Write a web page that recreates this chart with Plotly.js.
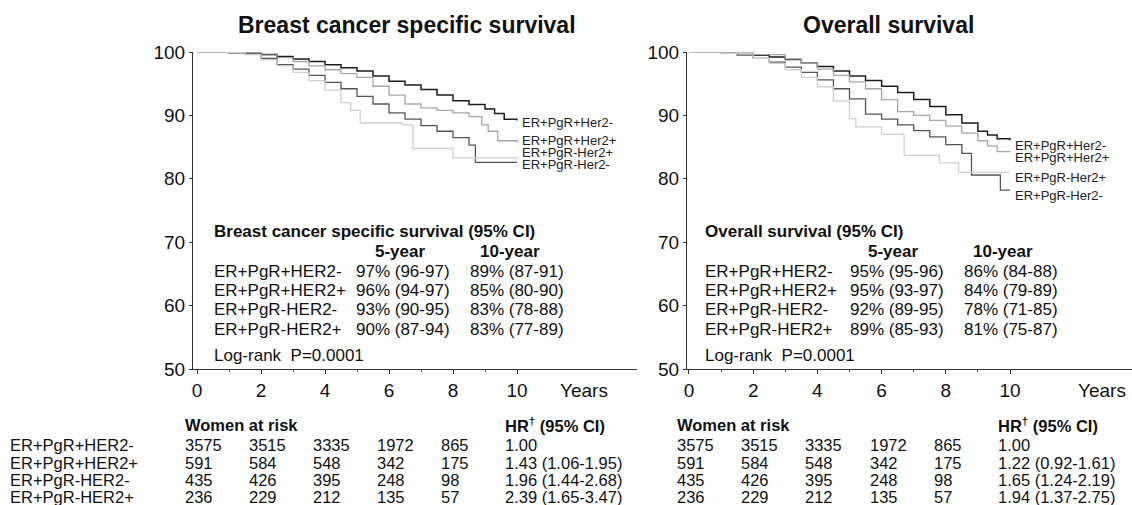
<!DOCTYPE html>
<html>
<head>
<meta charset="utf-8">
<script src="https://cdn.plot.ly/plotly-3.0.1.min.js"></script>
<style>
  html, body { margin: 0; padding: 0; background: #fff; }
  #chart { width: 1132px; height: 505px; }
</style>
</head>
<body>
<div id="chart"></div>
<script>
// ---------------- DATA ----------------
const groups = ["ER+PgR+HER2-", "ER+PgR+HER2+", "ER+PgR-HER2-", "ER+PgR-HER2+"];
const curveLabelsBCSS = ["ER+PgR+Her2-", "ER+PgR+Her2+", "ER+PgR-Her2+", "ER+PgR-Her2-"];
const curveLabelsOS = ["ER+PgR+Her2-", "ER+PgR+Her2+", "ER+PgR-Her2+", "ER+PgR-Her2-"];

// Breast cancer specific survival (%), Kaplan-Meier steps
const bcssT1 = [0, 1, 1.5, 2, 2.5, 3, 3.5, 4, 4.5, 5, 5.5, 6, 6.5, 7, 7.5, 8, 8.5, 9, 9.3, 9.6, 10];
const bcssS1 = [100, 99.9, 99.8, 99.6, 99.3, 98.9, 98.5, 98.0, 97.5, 97.0, 96.2, 95.4, 94.8, 94.1, 93.2, 92.3, 91.7, 91.0, 90.3, 89.4, 89.2];
const bcssT2 = [0, 1, 1.5, 2, 2.5, 3, 3.5, 4, 4.5, 5, 5.5, 6, 6.5, 7, 7.5, 8, 8.5, 8.9, 9.1, 9.4, 10];
const bcssS2 = [100, 99.9, 99.8, 99.5, 99.1, 98.5, 97.8, 97.2, 96.6, 96.0, 94.6, 93.2, 91.8, 91.2, 90.8, 90.4, 89.8, 88.5, 87.5, 86.0, 85.8];
const bcssT3 = [0, 1, 1.5, 2, 2.5, 3, 3.5, 4, 4.5, 5, 5.5, 6, 6.5, 7, 7.5, 8, 8.5, 8.7, 10];
const bcssS3 = [100, 99.9, 99.7, 99.0, 98.0, 97.3, 96.3, 95.2, 94.2, 93.0, 91.8, 90.4, 89.4, 88.4, 87.5, 86.5, 85.3, 82.6, 82.6];
const bcssT4 = [0, 1, 1.5, 2, 2.5, 3, 3.5, 4, 4.5, 4.8, 5.1, 6.4, 6.75, 8.0, 10];
const bcssS4 = [100, 99.9, 99.6, 98.8, 97.8, 96.8, 95.5, 94.0, 92.0, 90.8, 88.8, 88.5, 84.8, 83.3, 83.0];

// Overall survival (%)
const osT1 = [0, 1, 2, 2.5, 3, 3.5, 4, 4.5, 5, 5.5, 6, 6.5, 7, 7.5, 8, 8.5, 9, 9.3, 9.6, 10];
const osS1 = [100, 99.9, 99.5, 99.2, 98.8, 98.3, 97.7, 97.0, 96.2, 95.5, 94.6, 93.6, 92.5, 91.4, 90.1, 88.8, 87.5, 86.9, 86.3, 86.1];
const osT2 = [0, 1, 2, 3, 3.5, 4, 4.5, 5, 5.5, 6, 6.5, 7, 7.5, 8, 8.5, 9, 9.3, 9.6, 10];
const osS2 = [100, 99.9, 99.6, 98.9, 98.3, 97.3, 96.3, 95.3, 94.2, 92.5, 90.6, 90.0, 89.2, 88.3, 87.2, 86.0, 85.2, 84.3, 84.2];
const osT3 = [0, 1, 1.5, 2, 2.5, 3, 3.5, 4, 4.5, 5, 5.5, 6, 6.5, 7, 7.5, 8, 8.5, 8.8, 9.7, 10];
const osS3 = [100, 99.8, 99.5, 99.0, 98.4, 97.6, 96.8, 95.6, 94.2, 92.6, 90.2, 89.4, 88.5, 87.6, 86.6, 85.4, 84.0, 80.6, 78.2, 78.2];
const osT4 = [0, 1, 2, 2.5, 3, 3.5, 4, 4.5, 5, 5.2, 6.0, 6.7, 7.8, 8.4, 10];
const osS4 = [100, 99.8, 99.0, 98.2, 97.2, 96.0, 94.5, 92.3, 89.5, 88.2, 87.0, 83.7, 82.5, 81.0, 81.0];

// Inset tables
const bcss5yr = ["97% (96-97)", "96% (94-97)", "93% (90-95)", "90% (87-94)"];
const bcss10yr = ["89% (87-91)", "85% (80-90)", "83% (78-88)", "83% (77-89)"];
const os5yr = ["95% (95-96)", "95% (93-97)", "92% (89-95)", "89% (85-93)"];
const os10yr = ["86% (84-88)", "84% (79-89)", "78% (71-85)", "81% (75-87)"];
const logRankText = "Log-rank&nbsp;&nbsp;P=0.0001";

// Women at risk
const riskYears = [0, 2, 4, 6, 8];
const risk1 = [3575, 3515, 3335, 1972, 865];
const risk2 = [591, 584, 548, 342, 175];
const risk3 = [435, 426, 395, 248, 98];
const risk4 = [236, 229, 212, 135, 57];
const hrBCSS = ["1.00", "1.43 (1.06-1.95)", "1.96 (1.44-2.68)", "2.39 (1.65-3.47)"];
const hrOS = ["1.00", "1.22 (0.92-1.61)", "1.65 (1.24-2.19)", "1.94 (1.37-2.75)"];

const xTicks = [0, 2, 4, 6, 8, 10];
const xMinor = [1, 3, 5, 7, 9];
const yTicks = [50, 60, 70, 80, 90, 100];

// ---------------- STYLE / LAYOUT ----------------
const W = 1132, H = 505;
const FONT = "Liberation Sans, Arial, sans-serif";
const colors = ["#1c1c1c", "#a6a6a6", "#555555", "#cfcfcf"];
const widths = [1.5, 1.3, 1.3, 1.3];
const px = v => v / W;
const py = v => 1 - v / H;

const bcssT = [bcssT1, bcssT2, bcssT3, bcssT4];
const bcssS = [bcssS1, bcssS2, bcssS3, bcssS4];
const osT = [osT1, osT2, osT3, osT4];
const osS = [osS1, osS2, osS3, osS4];
const risks = [risk1, risk2, risk3, risk4];

const traces = [];
for (let i = 0; i < 4; i++) {
  traces.push({x: bcssT[i], y: bcssS[i], xaxis: 'x', yaxis: 'y', mode: 'lines',
    line: {shape: 'hv', color: colors[i], width: widths[i]}, name: groups[i], showlegend: false, hoverinfo: 'skip'});
}
for (let i = 0; i < 4; i++) {
  traces.push({x: osT[i], y: osS[i], xaxis: 'x2', yaxis: 'y2', mode: 'lines',
    line: {shape: 'hv', color: colors[i], width: widths[i]}, name: groups[i], showlegend: false, hoverinfo: 'skip'});
}

const yDom = [py(369), py(52)];
function xAxis(domain, range) {
  return {domain: domain, range: range, showgrid: false, zeroline: false, showline: true,
    linecolor: '#333', linewidth: 1, ticks: 'outside', ticklen: 4, tickcolor: '#333',
    tickvals: xTicks, ticktext: xTicks.map(String), tickfont: {family: FONT, size: 19, color: '#111'},
    minor: {tickvals: xMinor, ticklen: 2, tickcolor: '#555', ticks: 'outside'}, fixedrange: true};
}
function yAxis(anchor) {
  return {domain: yDom, range: [50, 100], anchor: anchor, showgrid: false, zeroline: false, showline: true,
    linecolor: '#333', linewidth: 1, ticks: 'outside', ticklen: 3, tickcolor: '#333',
    tickvals: yTicks, tickfont: {family: FONT, size: 19, color: '#111'}, fixedrange: true};
}

const ann = [];
function txt(x, y, text, opts) {
  ann.push(Object.assign({xref: 'paper', yref: 'paper', x: px(x), y: py(y), text: text,
    showarrow: false, xanchor: 'left', yanchor: 'middle',
    font: {family: FONT, size: 17, color: '#111'}}, opts || {}));
}

// Titles
txt(407, 25, "<b>Breast cancer specific survival</b>", {xanchor: 'center', font: {family: FONT, size: 23, color: '#111'}});
txt(888, 25, "<b>Overall survival</b>", {xanchor: 'center', font: {family: FONT, size: 23, color: '#111'}});

// "Years"
txt(610, 390, "Years", {xanchor: 'right', font: {family: FONT, size: 19, color: '#111'}});
txt(1128, 390, "Years", {xanchor: 'right', font: {family: FONT, size: 19, color: '#111'}});

// Curve labels
const bcssLabY = [122, 140, 152, 164];
const osLabY = [145, 157, 177, 195];
for (let i = 0; i < 4; i++) {
  txt(520, bcssLabY[i], curveLabelsBCSS[i], {font: {family: FONT, size: 13, color: '#222'}});
  txt(1013, osLabY[i], curveLabelsOS[i], {font: {family: FONT, size: 13, color: '#222'}});
}

// Inset tables
function insetTable(x0, c1, c2, h5, h10, title, v5, v10) {
  txt(x0, 232, "<b>" + title + "</b>", {font: {family: FONT, size: 17, color: '#111'}});
  txt(h5, 251, "<b>5-year</b>", {xanchor: 'center'});
  txt(h10, 251, "<b>10-year</b>", {xanchor: 'center'});
  const rowsY = [271, 290, 309, 329];
  for (let i = 0; i < 4; i++) {
    txt(x0, rowsY[i], groups[i]);
    txt(c1, rowsY[i], v5[i]);
    txt(c2, rowsY[i], v10[i]);
  }
  txt(x0, 355, logRankText);
}
insetTable(212, 354, 468, 400, 510, "Breast cancer specific survival (95% CI)", bcss5yr, bcss10yr);
insetTable(703, 848, 962, 893, 1003, "Overall survival (95% CI)", os5yr, os10yr);

// Bottom tables (at-risk + HR), positioned on the x scale of each panel
const headY = 425;
const bottomRowsY = [445, 462.5, 480, 497];
const BF = {family: FONT, size: 16.5, color: '#111'};
function riskTable(xref, hr, withLabels) {
  ann.push({xref: xref, yref: 'paper', x: 0, xshift: -14, y: py(headY), text: "<b>Women at risk</b>",
    showarrow: false, xanchor: 'left', yanchor: 'middle', font: BF});
  ann.push({xref: xref, yref: 'paper', x: 10, xshift: -14, y: py(headY), text: "<b>HR<sup>†</sup> (95% CI)</b>",
    showarrow: false, xanchor: 'left', yanchor: 'middle', font: BF});
  for (let i = 0; i < 4; i++) {
    if (withLabels) txt(8, bottomRowsY[i], groups[i], {font: BF});
    for (let j = 0; j < riskYears.length; j++) {
      ann.push({xref: xref, yref: 'paper', x: riskYears[j], xshift: -14, y: py(bottomRowsY[i]),
        text: String(risks[i][j]), showarrow: false, xanchor: 'left', yanchor: 'middle', font: BF});
    }
    ann.push({xref: xref, yref: 'paper', x: 10, xshift: -14, y: py(bottomRowsY[i]), text: hr[i],
      showarrow: false, xanchor: 'left', yanchor: 'middle', font: BF});
  }
}
riskTable('x', hrBCSS, true);
riskTable('x2', hrOS, false);

const layout = {
  width: W, height: H, margin: {l: 0, r: 0, t: 0, b: 0},
  paper_bgcolor: '#fff', plot_bgcolor: 'rgba(0,0,0,0)',
  showlegend: false,
  font: {family: FONT, color: '#111'},
  xaxis: Object.assign(xAxis([px(193), px(637)], [-0.125, 13.75]), {anchor: 'y'}),
  yaxis: yAxis('x'),
  xaxis2: Object.assign(xAxis([px(687), 1], [-0.062, 13.8]), {anchor: 'y2'}),
  yaxis2: yAxis('x2'),
  annotations: ann
};

Plotly.newPlot('chart', traces, layout, {staticPlot: true, displayModeBar: false});
</script>
</body>
</html>
